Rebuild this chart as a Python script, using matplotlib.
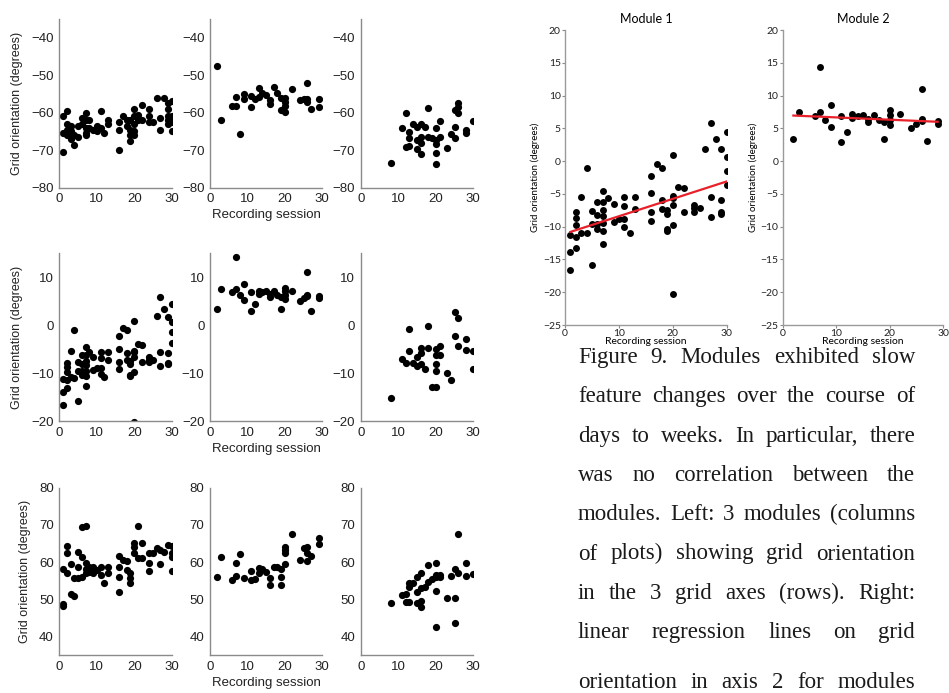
import matplotlib
matplotlib.use("Agg")
import matplotlib.pyplot as plt

W, H = 949, 693

# ---- data: left grid, rows = grid axis 1..3, columns = module 1..3 ----
a1_m1_x = [1, 1, 1, 2, 2, 2, 2, 3, 3, 3, 4, 4, 5, 5, 6, 6, 7, 7, 7, 7, 7, 8, 8, 9, 10, 10,
           11, 11, 12, 13, 13, 16, 16, 16, 17, 18, 18, 19, 19, 19, 19, 20, 20, 20, 20, 20,
           21, 21, 22, 22, 24, 24, 24, 25, 26, 27, 27, 28, 29, 29, 29, 29, 29, 30, 30, 30, 30]
a1_m1_y = [-61, -65.5, -70.5, -59.5, -63, -64.5, -66, -63.5, -65, -67, -66, -68.5, -63.5, -66.5,
           -61.5, -63, -60, -62, -64, -65.5, -66, -62, -64, -64.5, -63.5, -65, -59.5, -64, -65.5,
           -62, -63, -62.5, -64.5, -70, -61, -62, -63.5, -62, -64.5, -66, -67.5, -59, -61, -63,
           -65, -66, -60.5, -62, -58, -62, -59, -61, -62.5, -62.5, -56, -61.5, -64.5, -56, -57.5,
           -59, -61, -62, -63, -57, -61, -62.5, -65]

a2_m1_x = [1, 1, 1, 2, 2, 2, 2, 2, 3, 3, 4, 4, 5, 5, 5, 6, 6, 6, 6, 7, 7, 7, 7, 7, 7, 7, 8, 9, 9,
           10, 11, 11, 11, 11, 12, 13, 13, 16, 16, 16, 16, 17, 18, 18, 18, 19, 19, 19, 19, 20, 20,
           20, 20, 20, 20, 21, 22, 22, 24, 24, 24, 25, 26, 27, 27, 27, 28, 29, 29, 29, 29, 30, 30,
           30, 30]
a2_m1_y = [-11.2, -13.9, -16.6, -7.8, -8.7, -9.8, -11.5, -13.2, -5.4, -10.9, -1.1, -11.0, -7.6,
           -9.6, -15.8, -6.2, -8.2, -9.6, -10.4, -4.5, -6.3, -7.4, -8.4, -9.5, -10.6, -12.6, -5.6,
           -6.6, -9.3, -8.9, -5.5, -6.8, -8.9, -10.1, -10.9, -5.5, -7.3, -2.2, -4.9, -7.7, -9.2,
           -0.5, -1.0, -5.9, -7.3, -7.4, -8.1, -10.3, -10.6, 0.9, -5.3, -5.7, -6.7, -9.8, -20.2,
           -3.9, -4.1, -7.7, -6.7, -7.2, -7.7, -7.2, 1.9, 5.8, -5.5, -8.6, 3.4, 1.8, -5.9, -7.8,
           -8.1, 4.4, 0.7, -1.5, -3.7]

a3_m1_x = [1, 1, 1, 2, 2, 2, 3, 3, 4, 4, 5, 5, 5, 6, 6, 6, 7, 7, 7, 7, 8, 8, 9, 9, 10, 11, 11, 12,
           13, 13, 16, 16, 16, 16, 17, 18, 18, 19, 19, 19, 20, 20, 20, 21, 21, 22, 22, 24, 24, 24,
           25, 26, 27, 27, 28, 29, 30, 30, 30, 30]
a3_m1_y = [58.3, 48.9, 48.3, 64.3, 62.5, 57.0, 59.5, 51.5, 50.9, 55.7, 62.8, 58.8, 55.7, 69.4,
           61.5, 56.1, 69.7, 59.7, 58.3, 57.2, 58.8, 57.4, 58.8, 57.0, 57.9, 58.6, 56.6, 54.5,
           58.6, 57.2, 61.7, 58.8, 56.1, 52.1, 60.6, 60.4, 57.9, 57.0, 55.7, 54.3, 65.1, 64.0,
           62.5, 69.7, 61.0, 65.1, 61.0, 62.4, 59.7, 57.6, 62.5, 63.7, 63.3, 59.5, 62.8, 64.5,
           64.3, 62.4, 61.3, 57.6]

m2_x = [2, 3, 6, 7, 7, 8, 9, 9, 11, 11, 12, 13, 13, 14, 15, 16, 16, 17, 18, 19, 19, 20, 20, 20,
        20, 22, 24, 25, 26, 26, 26, 27, 29, 29]
a1_m2_y = [-47.6, -62, -58.1, -58.1, -55.9, -65.7, -55.1, -56.4, -55.5, -58.6, -56.4, -53.4,
           -55.8, -54.7, -55.3, -56.6, -57.6, -53.1, -54.7, -56.2, -59.3, -56.2, -57.2, -58.2,
           -59.7, -53.8, -56.6, -56.4, -52.2, -56.3, -57.2, -58.9, -56.3, -58.6]
a2_m2_y = [3.3, 7.5, 6.9, 14.3, 7.5, 6.3, 8.5, 5.2, 6.9, 2.9, 4.5, 7.2, 6.6, 6.9, 7.1, 6.5, 5.9,
           7.1, 6.3, 5.9, 3.4, 7.8, 7.1, 6.3, 5.5, 7.2, 5.0, 5.7, 11.0, 6.4, 6.1, 3.0, 6.1, 5.7]
a3_m2_x = [2, 3, 6, 7, 7, 8, 9, 11, 11, 12, 13, 13, 14, 15, 16, 16, 17, 18, 19, 19, 19, 20, 20,
           20, 20, 22, 24, 25, 26, 26, 26, 27, 29, 29]
a3_m2_y = [56.1, 61.3, 55.2, 56.3, 59.7, 62.2, 55.7, 57.6, 55.2, 55.4, 58.5, 57.2, 58.3, 57.4,
           55.8, 53.9, 58.8, 58.8, 58.3, 55.9, 53.9, 59.4, 64.2, 63.3, 62.4, 67.5, 60.5, 63.7,
           64.0, 62.5, 60.3, 61.7, 66.4, 64.9]

a1_m3_x = [8, 11, 12, 12, 13, 13, 13, 14, 15, 15, 15, 16, 16, 16, 16, 17, 18, 18, 19, 20, 20, 20,
           20, 20, 21, 21, 23, 24, 25, 25, 25, 26, 26, 26, 28, 28, 30]
a1_m3_y = [-73.3, -64.2, -60.2, -69.1, -68.8, -65.1, -66.7, -63.1, -63.7, -67.3, -69.7, -63,
           -66.4, -68, -71.1, -63.8, -58.8, -66.6, -66.7, -64.2, -67.3, -68.4, -70.7, -73.7, -62.3,
           -66.4, -69.4, -65.8, -59.3, -63.9, -66.8, -57.3, -58.4, -60, -64.6, -65.5, -62.1]
a2_m3_x = [8, 11, 12, 13, 13, 14, 15, 15, 16, 16, 16, 17, 18, 18, 19, 20, 20, 20, 20, 20, 21, 21,
           23, 24, 25, 25, 26, 26, 28, 28, 30, 30]
a2_m3_y = [-15.1, -7.1, -7.8, -0.8, -5.4, -7.8, -6.6, -8.5, -4.7, -5.9, -8.0, -9.2, -0.1, -4.8,
           -12.9, -4.9, -6.3, -8.0, -9.5, -12.8, -4.4, -6.3, -10.0, -11.4, 2.8, -2.2, 1.6, -4.3,
           -2.9, -5.2, -5.4, -9.1]
a3_m3_x = [8, 11, 12, 12, 13, 13, 13, 14, 15, 15, 15, 16, 16, 16, 16, 17, 18, 18, 19, 20, 20, 20,
           20, 20, 21, 21, 23, 24, 25, 25, 25, 26, 26, 28, 28, 30]
a3_m3_y = [49.0, 51.1, 51.4, 49.2, 49.2, 54.3, 53.4, 54.3, 55.9, 51.9, 49.0, 57.0, 53.0, 49.7,
           48.1, 53.4, 59.2, 54.8, 55.4, 59.7, 56.6, 56.0, 52.3, 42.5, 56.0, 56.6, 50.5, 56.2,
           58.3, 50.3, 43.6, 67.6, 57.0, 59.7, 56.3, 56.8]

# regression lines (right panels, grid axis 2)
reg_m1_x = [1, 30]
reg_m1_y = [-10.8, -3.1]
reg_m2_x = [2, 29]
reg_m2_y = [6.95, 6.0]

row_ylims = [(-80, -35), (-20, 15), (35, 80)]
row_yticks = [[-80, -70, -60, -50, -40], [-20, -10, 0, 10], [40, 50, 60, 70, 80]]
module_titles = ["Module 1", "Module 2"]

caption = [
    "Figure 9. Modules exhibited slow",
    "feature changes over the course of",
    "days to weeks. In particular, there",
    "was no correlation between the",
    "modules. Left: 3 modules (columns",
    "of plots) showing grid orientation",
    "in the 3 grid axes (rows). Right:",
    "linear regression lines on grid",
    "orientation in axis 2 for modules",
]

fig = plt.figure(figsize=(W / 100, H / 100), dpi=100)


def px_axes(x0, y0, x1, y1):
    return fig.add_axes([x0 / W, 1 - y1 / H, (x1 - x0) / W, (y1 - y0) / H])


def clean(ax, fontsize, family, color="#8a8a8a"):
    ax.spines[["top", "right"]].set_visible(False)
    for s in ["left", "bottom"]:
        ax.spines[s].set_color(color)
        ax.spines[s].set_linewidth(1.0)
    ax.set_facecolor("none")
    for lab in ax.get_xticklabels() + ax.get_yticklabels():
        lab.set_fontfamily(family)
        lab.set_fontsize(fontsize)
        lab.set_color("#222222")


# ---- left 3x3 grid ----
col_x = [(59.3, 171.7), (210, 322.3), (360.7, 473.3)]
row_y = [(18.9, 187.7), (253.3, 421), (487.7, 655.3)]
left_data = [
    [(a1_m1_x, a1_m1_y), (m2_x, a1_m2_y), (a1_m3_x, a1_m3_y)],
    [(a2_m1_x, a2_m1_y), (m2_x, a2_m2_y), (a2_m3_x, a2_m3_y)],
    [(a3_m1_x, a3_m1_y), (a3_m2_x, a3_m2_y), (a3_m3_x, a3_m3_y)],
]
sans = "Liberation Sans"
for r in range(3):
    for c in range(3):
        ax = px_axes(col_x[c][0], row_y[r][0], col_x[c][1], row_y[r][1])
        xs, ys = left_data[r][c]
        ax.plot(xs, ys, "o", color="black", markersize=5.2, markeredgewidth=0)
        ax.set_xlim(0, 30)
        ax.set_ylim(*row_ylims[r])
        ax.set_xticks([0, 10, 20, 30])
        ax.set_yticks(row_yticks[r])
        ax.tick_params(length=0, pad=4)
        clean(ax, 9.5, sans)
        if c == 0:
            ax.set_ylabel("Grid orientation (degrees)", family=sans, fontsize=9, color="#222222",
                          labelpad=6)
        if c == 1:
            ax.set_xlabel("Recording session", family=sans, fontsize=9.5, color="#222222",
                          labelpad=3)

# ---- right: regression panels ----
right_x = [(565, 726.7), (782.7, 943)]
right_data = [(a2_m1_x, a2_m1_y, reg_m1_x, reg_m1_y), (m2_x, a2_m2_y, reg_m2_x, reg_m2_y)]
rfont = "Lato"
for i, (xs, ys, rx, ry) in enumerate(right_data):
    ax = px_axes(right_x[i][0], 30, right_x[i][1], 325)
    ax.plot(xs, ys, "o", color="black", markersize=5, markeredgewidth=0)
    ax.plot(rx, ry, color="#e8202a", linewidth=1.6)
    ax.set_xlim(0, 30)
    ax.set_ylim(-25, 20)
    ax.set_xticks([0, 10, 20, 30])
    ax.set_yticks(range(-25, 21, 5))
    ax.tick_params(length=2, width=0.8, color="#8a8a8a", pad=1)
    clean(ax, 7.5, rfont, color="#9a9a9a")
    ax.set_title(module_titles[i], family=rfont, fontsize=9, pad=5)
    ax.set_ylabel("Grid orientation (degrees)", family=rfont, fontsize=7, labelpad=2)
    ax.set_xlabel("Recording session", family=rfont, fontsize=7.5, labelpad=-1)

# ---- caption, justified ----
renderer = fig.canvas.get_renderer()
cx0, cx1 = 578, 915
baselines = [363 + 39.3 * i for i in range(len(caption) - 1)] + [688]
for line, yb in zip(caption, baselines):
    words = line.split()
    texts = [fig.text(0, 1 - yb / H, w, family="Liberation Serif", fontsize=16.5,
                      color="#1a1a1a", va="baseline") for w in words]
    widths = [t.get_window_extent(renderer).width for t in texts]
    gap = (cx1 - cx0 - sum(widths)) / (len(words) - 1)
    x = cx0
    for t, w in zip(texts, widths):
        t.set_x(x / W)
        x += w + gap

fig.savefig("out.png", dpi=100)
